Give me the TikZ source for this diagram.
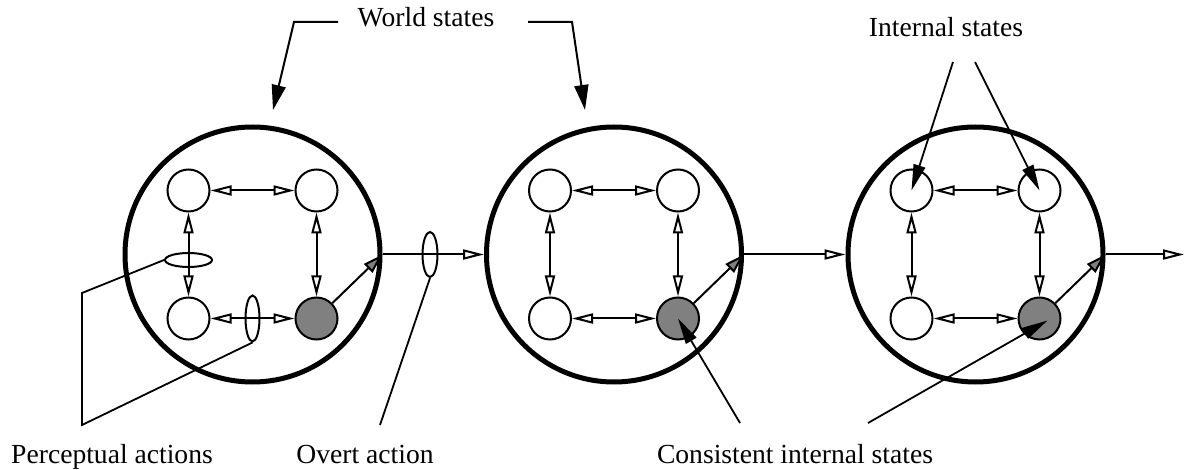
\documentclass[tikz,border=0pt]{standalone}
\usepackage{fontspec}
\setmainfont{Liberation Serif}
\usetikzlibrary{arrows.meta,shapes.geometric,calc}
\begin{document}
\begin{tikzpicture}[x=0.5pt,y=-0.5pt,
  big/.style={circle,draw,line width=2.5pt,minimum size=127.5pt,inner sep=0pt},
  st/.style={circle,draw,line width=1pt,minimum size=21pt,inner sep=0pt,fill=white},
  gst/.style={st,fill=gray},
  lbl/.style={font=\fontsize{13.8}{16}\selectfont,anchor=base,inner sep=0pt},
  oh/.tip={Triangle[open,length=10.5pt,width=5pt,line width=1pt]},
  dbl/.style={line width=1pt,{oh}-{oh}},
  fwd/.style={line width=1pt,-{oh}},
  garr/.style={line width=1pt,-{Triangle[length=10pt,width=6pt,fill=gray,line width=1pt]}},
  warr/.style={line width=1pt,-{Triangle[length=12.5pt,width=7pt]}},
  iarr/.style={line width=0.9pt,-{Triangle[length=13pt,width=6pt]}},
  lin/.style={line width=0.9pt},
  ell/.style={ellipse,draw,line width=1pt,inner sep=0pt}
]
\useasboundingbox (0,0) rectangle (1184,470);

\foreach \i/\x in {1/252.5,2/614,3/975.5}{
  \node[big] (C\i) at (\x,254.5) {};
  \node[st]  (a\i) at ($(\x,254.5)+(-64,-64)$) {};
  \node[st]  (b\i) at ($(\x,254.5)+(64,-64)$) {};
  \node[st]  (c\i) at ($(\x,254.5)+(-64,64)$) {};
  \node[gst] (g\i) at ($(\x,254.5)+(64,64)$) {};
  \draw[dbl] (a\i) -- (b\i);
  \draw[dbl] (a\i) -- (c\i);
  \draw[dbl] (b\i) -- (g\i);
  \draw[dbl] (c\i) -- (g\i);
  \draw[garr] (g\i) -- (C\i.east);
}

\coordinate (end) at (1184,254.5);
\draw[fwd] (C1.east) -- (C2.west);
\draw[fwd] (C2.east) -- (C3.west);
\draw[fwd] (C3.east) -- (end);

% ellipses
\node[ell,minimum width=23.5pt,minimum height=7pt] (e1) at (188.5,260) {};
\node[ell,minimum width=7pt,minimum height=23pt] (e2) at (252.5,318.5) {};
\node[ell,minimum width=7.5pt,minimum height=22.5pt] (e3) at (430,254.5) {};

% labels
\node[lbl] (ws) at (426,27) {World states};
\node[lbl] (is) at (946,37) {Internal states};
\node[lbl] (pa) at (112,463) {Perceptual actions};
\node[lbl] (oa) at (365,463) {Overt action};
\node[lbl] (cs) at (795,463) {Consistent internal states};

% world state brackets
\coordinate (w1a) at (338,22);
\coordinate (w1b) at (294,22);
\coordinate (w1c) at (273,110);
\coordinate (w2a) at (528,22);
\coordinate (w2b) at (572,22);
\coordinate (w2c) at (585,110);
\draw[warr] (w1a) -- (w1b) -- (w1c);
\draw[warr] (w2a) -- (w2b) -- (w2c);

% internal states
\coordinate (i1) at (953,62);
\coordinate (i2) at (975,62);
\draw[iarr] (i1) -- (a3.center);
\draw[iarr] (i2) -- (b3.center);

% perceptual actions bracket
\coordinate (p1) at (82,293);
\coordinate (p2) at (82,425);
\draw[lin] (e1.west) -- (p1) -- (p2) -- (e2.south);

% overt action
\coordinate (o1) at (380,425);
\draw[lin] (e3.south) -- (o1);

% consistent internal states
\coordinate (k1) at (740,423);
\coordinate (k2) at (868,423);
\coordinate (k3) at ($(g3.center)+(8,2)$);
\draw[iarr] (k1) -- (g2.center);
\draw[iarr] (k2) -- (k3);
\end{tikzpicture}
\end{document}
